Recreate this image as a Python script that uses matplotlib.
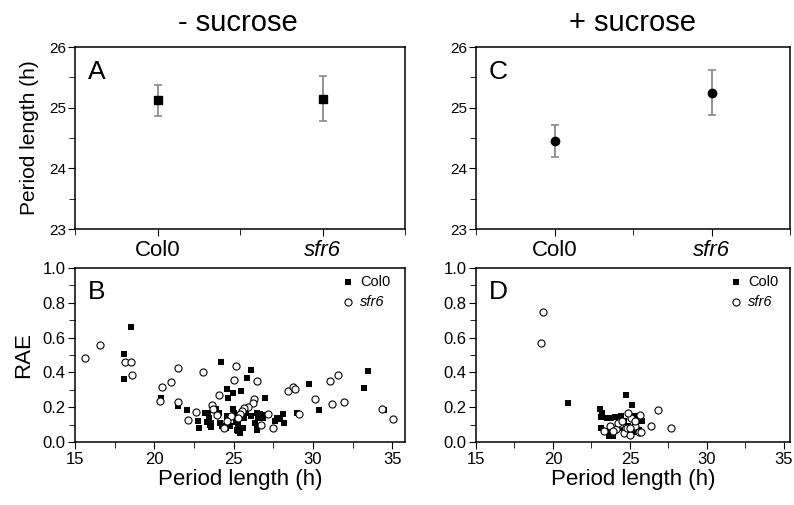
import numpy as np
import matplotlib
matplotlib.use('Agg')
import matplotlib.pyplot as plt
from matplotlib.ticker import MultipleLocator

plt.rcParams['font.family'] = ['Liberation Sans', 'DejaVu Sans']

# period length means and errors (top panels)
genotypes = ['Col0', 'sfr6']
minus_mean = [25.12, 25.15]
minus_err = [0.26, 0.37]
plus_mean = [24.45, 25.25]
plus_err = [0.26, 0.37]

# RAE vs period, - sucrose
b_col0_x = [18.55, 18.08, 18.08, 20.39, 21.5, 22.06, 22.75, 22.8, 24.2, 26.1, 25.87, 24.6, 25.45,
            24.97, 24.67, 27.0, 29.75, 30.4, 29.0, 28.1, 28.17, 27.9, 33.45, 33.24, 34.5,
            23.37, 23.43, 23.54, 23.58, 23.86, 24.07, 24.13, 24.28, 24.5, 24.6, 24.78, 24.93,
            25.04, 25.25, 25.3, 25.4, 25.6, 25.68, 25.79, 26.1, 26.47, 26.53, 26.64, 26.85,
            26.5, 23.32, 23.2, 23.3, 23.5, 25.15, 25.2, 26.37, 26.5, 26.8, 27.7, 27.6]
b_col0_y = [0.66, 0.505, 0.362, 0.253, 0.208, 0.184, 0.123, 0.083, 0.461, 0.412, 0.37, 0.303, 0.293,
            0.281, 0.25, 0.253, 0.333, 0.184, 0.168, 0.158, 0.109, 0.133, 0.406, 0.313, 0.184,
            0.168, 0.139, 0.109, 0.085, 0.188, 0.168, 0.109, 0.089, 0.079, 0.149, 0.093, 0.188,
            0.168, 0.105, 0.065, 0.05, 0.079, 0.139, 0.168, 0.149, 0.089, 0.139, 0.158, 0.139,
            0.069, 0.115, 0.165, 0.117, 0.098, 0.117, 0.069, 0.109, 0.165, 0.155, 0.136, 0.12]
b_sfr6_x = [15.6, 16.58, 18.14, 18.55, 18.57, 20.37, 20.5, 21.03, 21.5, 21.48, 22.14, 22.6, 23.09,
            23.65, 24.07, 25.03, 25.14, 26.45, 26.3, 26.2, 25.9, 25.68, 25.53, 25.4, 24.82, 24.39,
            24.6, 27.18, 27.5, 26.72, 28.43, 28.75, 28.88, 29.1, 30.1, 31.1, 31.6, 31.17, 31.96,
            34.36, 35.03, 23.7, 23.96, 25.3]
b_sfr6_y = [0.48, 0.56, 0.459, 0.459, 0.382, 0.234, 0.317, 0.347, 0.426, 0.228, 0.127, 0.172, 0.402,
            0.212, 0.271, 0.354, 0.438, 0.35, 0.248, 0.222, 0.202, 0.194, 0.178, 0.162, 0.149, 0.079,
            0.123, 0.158, 0.079, 0.095, 0.291, 0.317, 0.303, 0.158, 0.248, 0.352, 0.382, 0.218, 0.228,
            0.188, 0.133, 0.188, 0.154, 0.139]

# RAE vs period, + sucrose
d_col0_x = [20.97, 24.72, 25.13, 23.05, 23.2, 23.09, 23.48, 23.8, 24.06, 24.44, 24.6, 23.15, 23.37,
            23.7, 23.65, 23.9, 24.33, 24.87, 25.3, 25.77, 25.19, 25.6]
d_col0_y = [0.222, 0.271, 0.214, 0.188, 0.168, 0.143, 0.139, 0.139, 0.143, 0.152, 0.119, 0.079, 0.063,
            0.05, 0.034, 0.034, 0.079, 0.089, 0.149, 0.123, 0.059, 0.069]
d_sfr6_x = [19.38, 19.25, 26.8, 27.66, 26.37, 25.67, 25.09, 24.87, 25.3, 24.33, 24.12, 23.73, 23.33,
            24.6, 24.98, 25.56, 25.73, 24.8, 23.9, 25.3, 24.2, 25.0, 24.5]
d_sfr6_y = [0.746, 0.57, 0.184, 0.083, 0.093, 0.154, 0.139, 0.164, 0.089, 0.103, 0.073, 0.089, 0.063,
            0.053, 0.04, 0.059, 0.059, 0.079, 0.063, 0.119, 0.11, 0.08, 0.12]

fig = plt.figure(figsize=(7.94, 5.05), dpi=100)
axA = fig.add_axes([0.0945, 0.5465, 0.4156, 0.3604])
axC = fig.add_axes([0.5995, 0.5465, 0.3955, 0.3604])
axB = fig.add_axes([0.0945, 0.1248, 0.4156, 0.3446])
axD = fig.add_axes([0.5995, 0.1248, 0.3955, 0.3446])


def period_panel(ax, mean, err, marker, letter):
    line, caps, bars = ax.errorbar([1, 2], mean, yerr=err, fmt=marker, color='black', ms=6,
                                   ecolor='#8a8a8a', elinewidth=1.3, capsize=3.2, capthick=1.2)
    for c in caps:
        c.set_color('#444444')
    ax.set_xlim(0.5, 2.5)
    ax.set_ylim(23, 26)
    ax.set_xticks([1, 2])
    ax.set_xticklabels(genotypes, fontsize=16)
    ax.get_xticklabels()[1].set_style('italic')
    ax.xaxis.set_minor_locator(MultipleLocator(0.5))
    ax.yaxis.set_major_locator(MultipleLocator(1))
    ax.yaxis.set_minor_locator(MultipleLocator(0.5))
    ax.tick_params(axis='y', which='major', labelsize=11, length=5, pad=1.5)
    ax.tick_params(axis='x', which='major', length=5, pad=3)
    ax.tick_params(which='minor', length=4)
    ax.text(0.04, 0.93, letter, transform=ax.transAxes, fontsize=19, va='top', ha='left')


def rae_panel(ax, cx, cy, sx, sy, letter, xmax):
    ax.scatter(cx, cy, marker='s', s=16, color='black', linewidths=0, label='Col0', zorder=2)
    ax.scatter(sx, sy, marker='o', s=26, facecolor='white', edgecolor='black', linewidths=0.8,
               label='sfr6', zorder=3)
    ax.set_xlim(15, xmax)
    ax.set_ylim(0, 1.0)
    ax.xaxis.set_major_locator(MultipleLocator(5))
    ax.xaxis.set_minor_locator(MultipleLocator(2.5))
    ax.yaxis.set_major_locator(MultipleLocator(0.2))
    ax.yaxis.set_minor_locator(MultipleLocator(0.1))
    ax.yaxis.set_major_formatter(matplotlib.ticker.FormatStrFormatter('%.1f'))
    ax.tick_params(which='major', labelsize=12, length=5, pad=2)
    ax.tick_params(which='minor', length=4)
    ax.set_xlabel('Period length (h)', fontsize=16, labelpad=2)
    ax.text(0.04, 0.93, letter, transform=ax.transAxes, fontsize=19, va='top', ha='left')
    leg = ax.legend(loc='upper left', bbox_to_anchor=(0.81, 0.96), frameon=False, fontsize=10.5,
                    handlelength=0.8, handletextpad=0.4, labelspacing=0.4, borderpad=0,
                    borderaxespad=0)
    leg.get_texts()[1].set_style('italic')


period_panel(axA, minus_mean, minus_err, 's', 'A')
period_panel(axC, plus_mean, plus_err, 'o', 'C')
axA.set_ylabel('Period length (h)', fontsize=15, labelpad=7)
rae_panel(axB, b_col0_x, b_col0_y, b_sfr6_x, b_sfr6_y, 'B', 35.8)
rae_panel(axD, d_col0_x, d_col0_y, d_sfr6_x, d_sfr6_y, 'D', 35.4)
axB.set_ylabel('RAE', fontsize=16, labelpad=6)

for ax in (axA, axB, axC, axD):
    for s in ax.spines.values():
        s.set_linewidth(1.1)

fig.text(0.299, 0.955, '- sucrose', fontsize=21, ha='center', va='center')
fig.text(0.797, 0.955, '+ sucrose', fontsize=21, ha='center', va='center')

fig.savefig('out.png', dpi=100)
